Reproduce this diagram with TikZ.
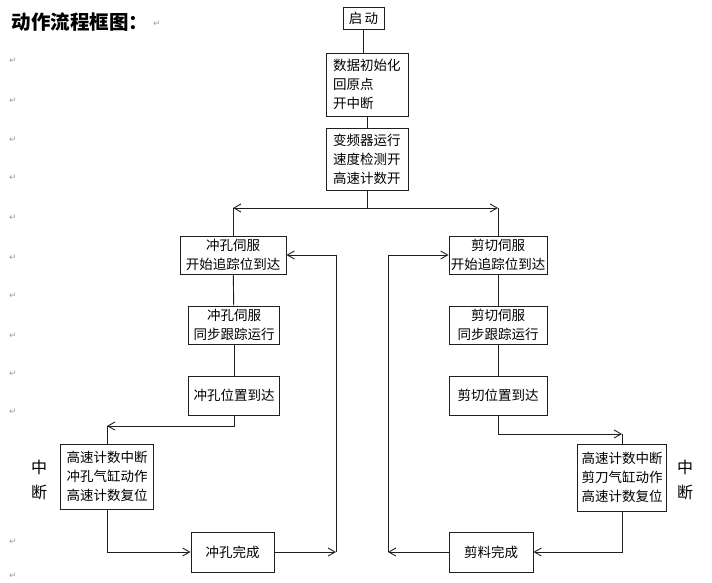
\documentclass[tikz,border=0pt]{standalone}
\usepackage{fontspec}
\usepackage{tikz}
\usetikzlibrary{arrows.meta, positioning, calc}
\newfontfamily\cjk{Noto Sans CJK SC}
\newfontfamily\symf{DejaVu Sans}
\definecolor{flline}{RGB}{30,30,30}
\definecolor{flmark}{RGB}{160,160,160}

\tikzset{
  flbox/.style={draw=flline, line width=0.9pt, inner sep=0pt, align=center,
    font=\cjk\fontsize{13.5}{19}\selectfont},
  flleft/.style={flbox, align=left, inner xsep=7pt, text width=68pt},
  flline/.style={draw=flline, line width=0.9pt},
  flarrow/.style={flline, -{Straight Barb[length=7pt,width=8pt]}},
  flnote/.style={font=\cjk\fontsize{16}{25}\selectfont, align=center},
  retmark/.style={flmark, font=\symf\fontsize{9}{9}\selectfont}
}

\begin{document}
\begin{tikzpicture}[x=1pt, y=-1pt]
\useasboundingbox (0,0) rectangle (712,583);
\fill[white] (0,0) rectangle (712,583);

% title
\node[anchor=west, font=\cjk\bfseries\fontsize{19.5}{22}\selectfont] (title) at (8,22) {动作流程框图：};
\node[retmark] (titlemark) at (157,24) {↵};

% paragraph marks down the left margin
\foreach \yy [count=\i] in {61,101,140,178,218,258,296,336,374,412,542,576}{
  \node[retmark] (ret\i) at (13,\yy) {↵};
}

% ---- top chain ----
\node[flbox, minimum width=41pt, minimum height=22pt] (start) at (363.5,18) {启\,动};
\node[flleft, minimum height=63pt] (init) at (367,84.5) {数据初始化\\回原点\\开中断};
\node[flleft, minimum height=62pt] (vfd) at (367,159) {变频器运行\\速度检测开\\高速计数开};

\draw[flline] (start.south) -- (start.south |- init.north);
\draw[flline] (init) -- (vfd);

% ---- punching branch ----
\node[flbox, minimum width=106pt, minimum height=38pt] (punA) at (233,255) {冲孔伺服\\开始追踪位到达};
\node[flbox, minimum width=91pt, minimum height=38pt] (punB) at (234,325) {冲孔伺服\\同步跟踪运行};
\node[flbox, minimum width=91pt, minimum height=39pt] (punC) at (234,395.5) {冲孔位置到达};
\node[flbox, minimum width=93pt, minimum height=65pt] (punD) at (107,476.5) {高速计数中断\\冲孔气缸动作\\高速计数复位};
\node[flbox, minimum width=83pt, minimum height=40pt] (punE) at (232.5,552) {冲孔完成};
\node[flnote] (punInt) at (39,480) {中\\断};
\coordinate (jl) at (punA.north |- 0,208);
\coordinate (lk) at (punD.north |- 0,426);
\coordinate (lr) at (336,552);

\draw[flarrow] (vfd.south) |- (jl);
\draw[flline] (jl) -- (punA.north);
\draw[flline] (punA) -- (punB);
\draw[flline] (punB) -- (punC);
\draw[flarrow] (punC.south) |- (lk);
\draw[flline] (lk) -- (punD.north);
\draw[flarrow] (punD.south) |- (punE.west);
\draw[flarrow] (punE.east) -- (lr);
\draw[flarrow] (lr) |- (punA.east);

% ---- cutting branch ----
\node[flbox, minimum width=98pt, minimum height=38pt] (cutA) at (498,255) {剪切伺服\\开始追踪位到达};
\node[flbox, minimum width=98pt, minimum height=38pt] (cutB) at (498,325) {剪切伺服\\同步跟踪运行};
\node[flbox, minimum width=98pt, minimum height=39pt] (cutC) at (498,395.5) {剪切位置到达};
\node[flbox, minimum width=89pt, minimum height=67pt] (cutD) at (622,477.5) {高速计数中断\\剪刀气缸动作\\高速计数复位};
\node[flbox, minimum width=84pt, minimum height=40pt] (cutE) at (491,552) {剪料完成};
\node[flnote] (cutInt) at (685,480) {中\\断};
\coordinate (jr) at (cutA.north |- 0,208);
\coordinate (rk) at (cutD.north |- 0,434);
\coordinate (rr) at (388,552);

\draw[flarrow] (vfd.south) |- (jr);
\draw[flline] (jr) -- (cutA.north);
\draw[flline] (cutA) -- (cutB);
\draw[flline] (cutB) -- (cutC);
\draw[flarrow] (cutC.south) |- (rk);
\draw[flline] (rk) -- (cutD.north);
\draw[flarrow] (cutD.south) |- (cutE.east);
\draw[flarrow] (cutE.west) -- (rr);
\draw[flarrow] (rr) |- (cutA.west);
\end{tikzpicture}
\end{document}
